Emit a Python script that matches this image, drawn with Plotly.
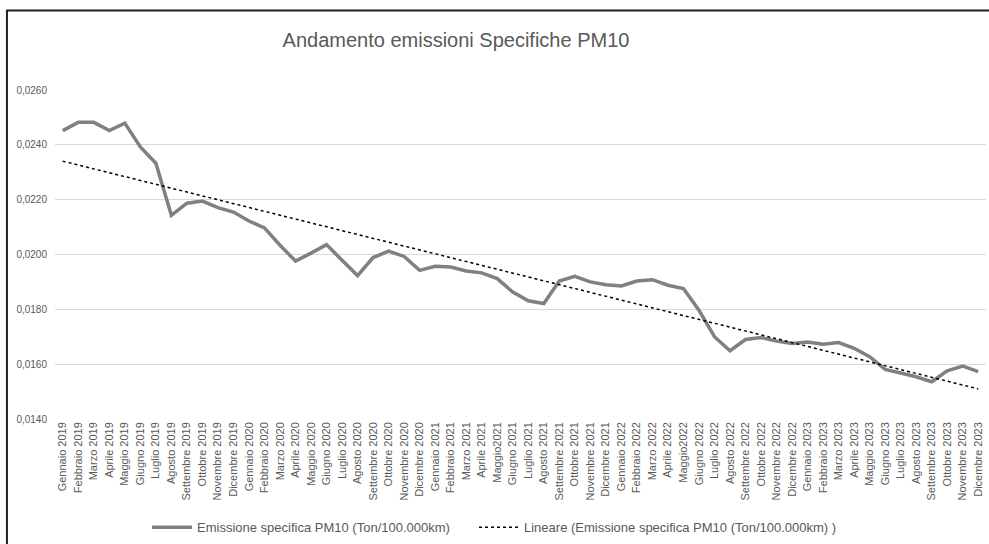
import numpy as np
import plotly.graph_objects as go

mesi = ["Gennaio", "Febbraio", "Marzo", "Aprile", "Maggio", "Giugno", "Luglio",
        "Agosto", "Settembre", "Ottobre", "Novembre", "Dicembre"]
anni = [2019, 2020, 2021, 2022, 2023]
categorie = []
for a in anni:
    for m in mesi:
        if m == "Maggio" and a in (2021, 2022):
            categorie.append(f"{m}{a}")
        else:
            categorie.append(f"{m} {a}")

emissione = [
    0.02452, 0.02482, 0.02482, 0.02452, 0.02479, 0.02392, 0.02333, 0.02143, 0.02187, 0.02195, 0.02171, 0.02155,
    0.02122, 0.02097, 0.02034, 0.01976, 0.02005, 0.02036, 0.01979, 0.01923, 0.01989, 0.02012, 0.01993, 0.01942,
    0.01957, 0.01954, 0.01940, 0.01933, 0.01912, 0.01863, 0.01831, 0.01821, 0.01903, 0.01920, 0.01900, 0.01890,
    0.01885, 0.01903, 0.01908, 0.01888, 0.01876, 0.01797, 0.01700, 0.01649, 0.01690, 0.01697, 0.01684, 0.01675,
    0.01681, 0.01673, 0.01679, 0.01658, 0.01627, 0.01581, 0.01568, 0.01554, 0.01536, 0.01576, 0.01593, 0.01573,
]

idx = np.arange(len(emissione))
coef = np.polyfit(idx, emissione, 1)
trend = np.polyval(coef, idx)

font = "Liberation Sans, Arial, sans-serif"
grey_txt = "#595959"

fig = go.Figure()
fig.add_trace(go.Scatter(
    x=categorie, y=emissione, mode="lines",
    name="Emissione specifica PM10 (Ton/100.000km)",
    line=dict(color="#808080", width=3.5), legend="legend",
))
fig.add_trace(go.Scatter(
    x=categorie, y=trend, mode="lines",
    name="Lineare (Emissione specifica PM10 (Ton/100.000km) )",
    line=dict(color="#000000", width=1.5, dash="dot"), legend="legend2",
))

leg_common = dict(orientation="h", xanchor="left", y=-0.329, yanchor="middle",
                  font=dict(family=font, size=13, color=grey_txt), itemwidth=40,
                  bgcolor="rgba(0,0,0,0)")

fig.update_layout(
    width=989, height=544,
    margin=dict(l=55, r=3, t=89.5, b=125.3, autoexpand=False),
    paper_bgcolor="white", plot_bgcolor="white",
    separators=",.",
    font=dict(family=font, size=10, color=grey_txt),
    title=dict(text="Andamento emissioni Specifiche PM10", x=456/989, xanchor="center",
               y=1 - 40/544, yanchor="middle",
               font=dict(family=font, size=20, color=grey_txt)),
    showlegend=True,
    legend=dict(x=(147 - 55) / 931, **leg_common),
    legend2=dict(x=(474 - 55) / 931, **leg_common),
    shapes=[dict(type="rect", xref="paper", yref="paper", x0=-0.0516, x1=1.0043,
                 y0=-0.3837, y1=1.2415, line=dict(color="#222222", width=2), layer="above")],
)
fig.update_xaxes(type="category", range=[-0.5, len(categorie) - 0.5], tickangle=-90,
                 showgrid=False, showline=False, ticks="",
                 tickfont=dict(family=font, size=11, color=grey_txt))
fig.update_yaxes(range=[0.014, 0.026], dtick=0.002, tick0=0.014, tickformat=".4f",
                 showgrid=True, gridcolor="#d9d9d9", gridwidth=1, zeroline=False,
                 showline=False, ticks="", ticklabelstandoff=7,
                 tickfont=dict(family=font, size=10, color=grey_txt))

fig.write_html("out.html", config={"displayModeBar": False},
               post_script="document.body.style.margin='0px';document.body.style.overflow='hidden';")
